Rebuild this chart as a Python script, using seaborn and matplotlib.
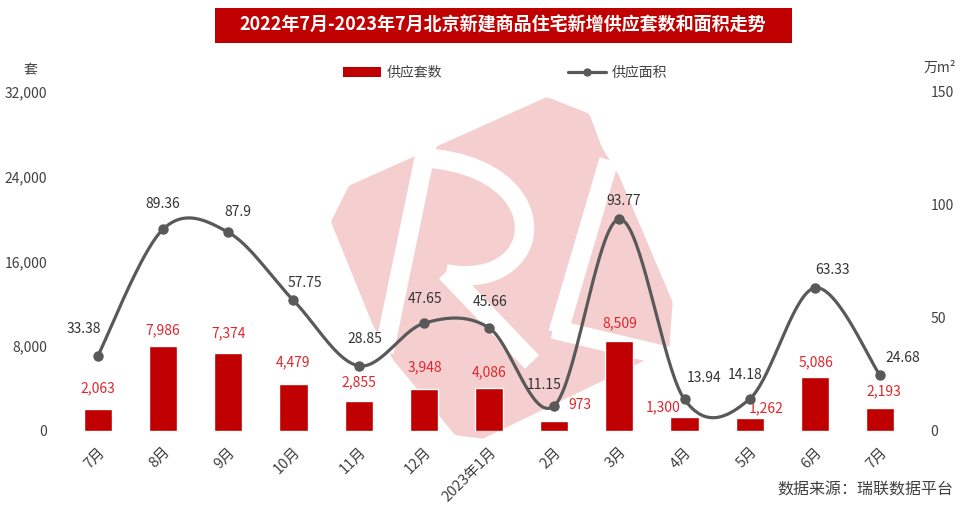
import numpy as np
import pandas as pd
import matplotlib
matplotlib.use("Agg")
import matplotlib.pyplot as plt
import matplotlib.transforms as mtrans
import seaborn as sns
from matplotlib.patches import Polygon, Rectangle, Patch
from matplotlib.lines import Line2D

# ---------------- data ----------------
months = ["7月", "8月", "9月", "10月", "11月", "12月", "2023年1月",
          "2月", "3月", "4月", "5月", "6月", "7月"]
units = [2063, 7986, 7374, 4479, 2855, 3948, 4086, 973, 8509, 1300, 1262, 5086, 2193]
area = [33.38, 89.36, 87.9, 57.75, 28.85, 47.65, 45.66, 11.15, 93.77, 13.94, 14.18, 63.33, 24.68]
left_ticks = [0, 8000, 16000, 24000, 32000]
right_ticks = [0, 50, 100, 150]

title = "2022年7月-2023年7月北京新建商品住宅新增供应套数和面积走势"
bar_name = "供应套数"
line_name = "供应面积"
source = "数据来源：瑞联数据平台"

# label offsets in pixels (dx, dy)
line_off = [(-14, 27), (0, 25), (10, 20), (11, 17), (6, 27), (1, 24), (1, 26),
            (-10, 21), (4, 18), (20, 21), (-5, 24), (18, 18), (23, 17)]
bar_off = [(0, 21), (0, 16), (0, 20), (0, 21), (0, 18), (1, 22), (0, 15),
           (26, 16), (0, 18), (-21, 10), (17, 9), (1, 15), (4, 16)]

sns.set_theme(style="white")
plt.rcParams["font.family"] = ["Noto Sans CJK SC", "DejaVu Sans"]
plt.rcParams["axes.unicode_minus"] = False

W, H = 960, 505
fig = plt.figure(figsize=(W / 100, H / 100), dpi=100)
fig.patch.set_facecolor("white")

def fx(px):
    return px / W

def fy(py):
    return 1 - py / H

pxT = mtrans.Affine2D().scale(1 / W, -1 / H).translate(0, 1) + fig.transFigure

# ---------------- watermark (logo) ----------------
PINK = "#F5CFCF"
outline = [(337, 222), (353, 190), (547, 103), (585, 118), (597, 150), (614, 178),
           (667, 303), (664, 345), (482, 433), (458, 430), (398, 357), (378, 323)]
fig.add_artist(Polygon(outline, closed=True, transform=pxT, facecolor=PINK,
                       edgecolor=PINK, lw=8, joinstyle="round", zorder=-3))
wk = dict(color="white", lw=14, solid_capstyle="butt", transform=pxT, zorder=-2)
# R stem
fig.add_artist(Line2D([428, 384], [140, 352], **wk))
# R bowl (cubic bezier)
tb = np.linspace(0, 1, 80)[:, None]
b0, b1, b2, b3 = (np.array(p, float) for p in [(426, 158), (560, 168), (548, 292), (446, 274)])
bow = (1 - tb) ** 3 * b0 + 3 * (1 - tb) ** 2 * tb * b1 + 3 * (1 - tb) * tb ** 2 * b2 + tb ** 3 * b3
fig.add_artist(Line2D(bow[:, 0], bow[:, 1], solid_joinstyle="round", **wk))
# R leg
fig.add_artist(Line2D([446, 532], [272, 362], **wk))
# L vertical and horizontal
fig.add_artist(Line2D([609, 558], [160, 333], **wk))
fig.add_artist(Line2D([553, 670], [329, 357], **wk))

# ---------------- axes ----------------
L, R_, T, B = 65.4, 912.6, 92, 431
ax = fig.add_axes([fx(L), fy(B), (R_ - L) / W, (B - T) / H])
ax.set_facecolor("none")

df = pd.DataFrame({"month": pd.Categorical(range(len(months))), "units": units})
sns.barplot(data=df, x="month", y="units", color="#C00000", width=0.43,
            saturation=1, ax=ax, zorder=2)
ax.set_xlim(-0.5, len(months) - 0.5)
ax.set_ylim(0, 32000)
ax.set_yticks(left_ticks)
ax.set_yticklabels([f"{v:,}" for v in left_ticks], fontsize=10, color="#404040")
ax.set_xticks(range(len(months)))
ax.set_xticklabels(months, rotation=45, ha="right", rotation_mode="anchor",
                   fontsize=10.5, color="#404040")
ax.tick_params(axis="x", length=0, pad=10)
ax.tick_params(axis="y", length=0, pad=13)
ax.set_xlabel("")
ax.set_ylabel("")
for s in ax.spines.values():
    s.set_visible(False)

ax2 = ax.twinx()
ax2.set_ylim(0, 150)
ax2.set_yticks(right_ticks)
ax2.set_yticklabels([str(v) for v in right_ticks], fontsize=10, color="#404040")
ax2.tick_params(axis="y", length=0, pad=13)
for s in ax2.spines.values():
    s.set_visible(False)

# smooth (Excel-style Catmull-Rom) curve through the points
xs = np.arange(len(area), dtype=float)
ys = np.array(area, dtype=float)
P = np.column_stack([xs, ys])
P = np.vstack([P[0], P, P[-1]])
t = np.linspace(0, 1, 40)[:, None]
cx, cy = [], []
for i in range(1, len(P) - 2):
    p0, p3 = P[i], P[i + 1]
    c1 = p0 + (P[i + 1] - P[i - 1]) / 6
    c2 = p3 - (P[i + 2] - P[i]) / 6
    b = (1 - t) ** 3 * p0 + 3 * (1 - t) ** 2 * t * c1 + 3 * (1 - t) * t ** 2 * c2 + t ** 3 * p3
    cx.extend(b[:, 0]); cy.extend(b[:, 1])
ax2.plot(cx, cy, color="#595959", lw=2.3, zorder=3, solid_capstyle="round")
ax2.plot(xs, ys, ls="none", marker="o", ms=6.5, color="#595959", zorder=4)

k = 0.72  # px -> pt
for i, v in enumerate(area):
    dx, dy = line_off[i]
    ax2.annotate(f"{v:g}", (i, v), xytext=(dx * k, dy * k), textcoords="offset points",
                 ha="center", va="center", fontsize=10, color="#333333", zorder=5)
for i, v in enumerate(units):
    dx, dy = bar_off[i]
    ax.annotate(f"{v:,}", (i, v), xytext=(dx * k, dy * k), textcoords="offset points",
                ha="center", va="center", fontsize=10, color="#E0262C", zorder=5)

# ---------------- title ----------------
fig.add_artist(Rectangle((215, 8), 792 - 215, 35, transform=pxT,
                         facecolor="#C00000", edgecolor="none", zorder=1))
fig.text(fx(503), fy(25.5), title, color="white", fontsize=13, ha="center",
         va="center", fontweight="bold", zorder=2)

# units
fig.text(fx(30), fy(70), "套", fontsize=10, color="#404040", ha="center", va="center")
fig.text(fx(940), fy(68), "万m²", fontsize=10, color="#404040", ha="center", va="center")

# legend
handles = [Patch(facecolor="#C00000", edgecolor="none", label=bar_name),
           Line2D([0], [0], color="#595959", lw=2.3, marker="o", ms=5, label=line_name)]
fig.legend(handles=handles, loc="center", bbox_to_anchor=(fx(505), fy(73)),
           ncol=2, frameon=False, fontsize=10, handlelength=2.8, handleheight=0.7,
           columnspacing=9.0, handletextpad=0.4, labelcolor="#404040")

# source
fig.text(fx(953), fy(490), source, fontsize=11.5, color="#404040", ha="right", va="center")

fig.savefig("out.png", dpi=100, facecolor="white")
